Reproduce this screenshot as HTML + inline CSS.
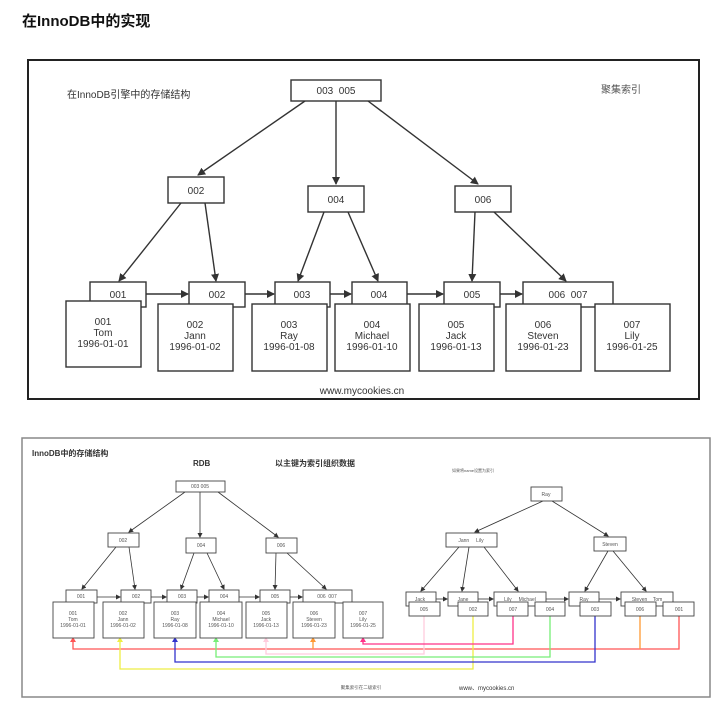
<!DOCTYPE html>
<html><head><meta charset="utf-8"><style>
html,body{margin:0;padding:0;background:#fff;}
svg{display:block;font-family:"Liberation Sans","Noto Sans CJK SC",sans-serif;}
</style></head><body>
<svg width="720" height="703" viewBox="0 0 720 703" xmlns="http://www.w3.org/2000/svg">
<defs>
<marker id="a" markerWidth="8" markerHeight="8" refX="7" refY="4" orient="auto" markerUnits="userSpaceOnUse"><path d="M0,0 L8,4 L0,8 z" fill="#333"/></marker>
<marker id="s" markerWidth="5" markerHeight="5" refX="4" refY="2.5" orient="auto" markerUnits="userSpaceOnUse"><path d="M0,0 L5,2.5 L0,5 z" fill="#333"/></marker>
</defs>
<text x="22" y="26" font-size="15" font-weight="bold" fill="#111">在InnoDB中的实现</text>

<!-- top diagram -->
<rect x="28" y="60" width="671" height="339" fill="#fff" stroke="#222" stroke-width="2"/>
<text x="67" y="98" font-size="10" fill="#333">在InnoDB引擎中的存储结构</text>
<text x="601" y="93" font-size="10" fill="#555">聚集索引</text>
<g stroke="#333" stroke-width="1.4" fill="none" marker-end="url(#a)">
<line x1="305" y1="101" x2="198" y2="175"/>
<line x1="336" y1="101" x2="336" y2="184"/>
<line x1="368" y1="101" x2="478" y2="184"/>
<line x1="181" y1="203" x2="119" y2="281"/>
<line x1="205" y1="203" x2="216" y2="281"/>
<line x1="324" y1="212" x2="298" y2="281"/>
<line x1="348" y1="212" x2="378" y2="281"/>
<line x1="475" y1="212" x2="472" y2="281"/>
<line x1="494" y1="212" x2="566" y2="281"/>
<line x1="146" y1="294" x2="188" y2="294"/>
<line x1="245" y1="294" x2="274" y2="294"/>
<line x1="330" y1="294" x2="351" y2="294"/>
<line x1="407" y1="294" x2="443" y2="294"/>
<line x1="500" y1="294" x2="522" y2="294"/>
</g>
<g stroke="#333" stroke-width="1.4" fill="#fff">
<rect x="291" y="80" width="90" height="21"/>
<rect x="168" y="177" width="56" height="26"/>
<rect x="308" y="186" width="56" height="26"/>
<rect x="455" y="186" width="56" height="26"/>
<rect x="90" y="282" width="56" height="25"/>
<rect x="189" y="282" width="56" height="25"/>
<rect x="275" y="282" width="55" height="25"/>
<rect x="352" y="282" width="55" height="25"/>
<rect x="444" y="282" width="56" height="25"/>
<rect x="523" y="282" width="90" height="25"/>
<rect x="66" y="301" width="75" height="66"/>
<rect x="158" y="304" width="75" height="67"/>
<rect x="252" y="304" width="75" height="67"/>
<rect x="335" y="304" width="75" height="67"/>
<rect x="419" y="304" width="75" height="67"/>
<rect x="506" y="304" width="75" height="67"/>
<rect x="595" y="304" width="75" height="67"/>
</g>
<g font-size="10" fill="#333" text-anchor="middle">
<text x="336" y="94">003&#160;&#160;005</text>
<text x="196" y="194">002</text><text x="336" y="203">004</text><text x="483" y="203">006</text>
<text x="118" y="298">001</text><text x="217" y="298">002</text><text x="302" y="298">003</text><text x="379" y="298">004</text><text x="472" y="298">005</text><text x="568" y="298">006&#160;&#160;007</text>
<text x="103" y="325">001</text><text x="103" y="336">Tom</text><text x="103" y="347">1996-01-01</text>
<text x="195" y="328">002</text><text x="195" y="339">Jann</text><text x="195" y="350">1996-01-02</text>
<text x="289" y="328">003</text><text x="289" y="339">Ray</text><text x="289" y="350">1996-01-08</text>
<text x="372" y="328">004</text><text x="372" y="339">Michael</text><text x="372" y="350">1996-01-10</text>
<text x="456" y="328">005</text><text x="456" y="339">Jack</text><text x="456" y="350">1996-01-13</text>
<text x="543" y="328">006</text><text x="543" y="339">Steven</text><text x="543" y="350">1996-01-23</text>
<text x="632" y="328">007</text><text x="632" y="339">Lily</text><text x="632" y="350">1996-01-25</text>
<text x="362" y="394">www.mycookies.cn</text>
</g>

<!-- bottom diagram -->
<rect x="22" y="438" width="688" height="259" fill="#fff" stroke="#888" stroke-width="1.5"/>
<text x="32" y="456" font-size="8" font-weight="bold" fill="#333">InnoDB中的存储结构</text>
<text x="193" y="466" font-size="8" font-weight="bold" fill="#333">RDB</text>
<text x="275" y="466" font-size="8" font-weight="bold" fill="#333">以主键为索引组织数据</text>
<text x="452" y="472" font-size="4" fill="#555">如果将name设置为索引</text>
<!-- colored links -->
<g fill="none" stroke-width="1.3">
<polyline points="73,640 73,649 679,649 679,614" stroke="#f55"/>
<polyline points="640,614 640,649" stroke="#f93"/>
<polyline points="313,639 313,649" stroke="#f93"/>
<polyline points="120,640 120,669 473,669 473,614" stroke="#ee4"/>
<polyline points="175,640 175,662 595,662 595,614" stroke="#33c"/>
<polyline points="216,640 216,657 550,657 550,614" stroke="#7e7"/>
<polyline points="266,640 266,654 424,654 424,614" stroke="#fcd"/>
<polyline points="363,640 363,644 513,644 513,614" stroke="#f38"/>
</g>
<g font-size="5" fill="#f55"><path d="M70,642 L73,637 L76,642 z"/></g>
<path d="M117,642 L120,637 L123,642 z" fill="#ee4"/>
<path d="M172,642 L175,637 L178,642 z" fill="#33c"/>
<path d="M213,642 L216,637 L219,642 z" fill="#7e7"/>
<path d="M263,642 L266,637 L269,642 z" fill="#fcd"/>
<path d="M310,642 L313,637 L316,642 z" fill="#f93"/>
<path d="M360,642 L363,637 L366,642 z" fill="#f38"/>
<g stroke="#333" stroke-width="0.8" fill="none" marker-end="url(#s)">
<line x1="185" y1="492" x2="129" y2="532"/>
<line x1="200" y1="492" x2="200" y2="537"/>
<line x1="218" y1="492" x2="278" y2="537"/>
<line x1="116" y1="547" x2="82" y2="589"/>
<line x1="129" y1="547" x2="135" y2="589"/>
<line x1="194" y1="553" x2="181" y2="589"/>
<line x1="207" y1="553" x2="224" y2="589"/>
<line x1="276" y1="553" x2="275" y2="589"/>
<line x1="287" y1="553" x2="326" y2="589"/>
<line x1="97" y1="597" x2="120" y2="597"/>
<line x1="151" y1="597" x2="166" y2="597"/>
<line x1="197" y1="597" x2="208" y2="597"/>
<line x1="239" y1="597" x2="259" y2="597"/>
<line x1="290" y1="597" x2="302" y2="597"/>
<line x1="543" y1="501" x2="475" y2="532"/>
<line x1="552" y1="501" x2="608" y2="536"/>
<line x1="459" y1="547" x2="421" y2="591"/>
<line x1="469" y1="547" x2="462" y2="591"/>
<line x1="484" y1="547" x2="518" y2="591"/>
<line x1="608" y1="551" x2="585" y2="591"/>
<line x1="613" y1="551" x2="646" y2="591"/>
<line x1="436" y1="599" x2="447" y2="599"/>
<line x1="478" y1="599" x2="493" y2="599"/>
<line x1="546" y1="599" x2="568" y2="599"/>
<line x1="599" y1="599" x2="620" y2="599"/>
</g>
<g stroke="#444" stroke-width="0.9" fill="#fff">
<rect x="176" y="481" width="49" height="11"/>
<rect x="108" y="533" width="31" height="14"/>
<rect x="186" y="538" width="30" height="15"/>
<rect x="266" y="538" width="31" height="15"/>
<rect x="66" y="590" width="31" height="13"/>
<rect x="121" y="590" width="30" height="13"/>
<rect x="167" y="590" width="30" height="13"/>
<rect x="209" y="590" width="30" height="13"/>
<rect x="260" y="590" width="30" height="13"/>
<rect x="303" y="590" width="49" height="13"/>
<rect x="53" y="602" width="41" height="36"/>
<rect x="103" y="602" width="41" height="36"/>
<rect x="154" y="602" width="42" height="36"/>
<rect x="200" y="602" width="42" height="36"/>
<rect x="246" y="602" width="41" height="36"/>
<rect x="293" y="602" width="42" height="36"/>
<rect x="343" y="602" width="40" height="36"/>
<rect x="531" y="487" width="31" height="14"/>
<rect x="446" y="533" width="51" height="14"/>
<rect x="594" y="537" width="32" height="14"/>
<rect x="406" y="592" width="30" height="14"/>
<rect x="448" y="592" width="30" height="14"/>
<rect x="494" y="592" width="52" height="14"/>
<rect x="569" y="592" width="30" height="14"/>
<rect x="621" y="592" width="52" height="14"/>
<rect x="409" y="602" width="31" height="14"/>
<rect x="458" y="602" width="30" height="14"/>
<rect x="497" y="602" width="31" height="14"/>
<rect x="535" y="602" width="30" height="14"/>
<rect x="580" y="602" width="31" height="14"/>
<rect x="625" y="602" width="31" height="14"/>
<rect x="663" y="602" width="31" height="14"/>
</g>
<g font-size="5" fill="#555" text-anchor="middle">
<text x="200" y="488">003&#160;005</text>
<text x="123" y="542">002</text><text x="201" y="547">004</text><text x="281" y="547">006</text>
<text x="81" y="598">001</text><text x="136" y="598">002</text><text x="182" y="598">003</text><text x="224" y="598">004</text><text x="275" y="598">005</text><text x="327" y="598">006&#160;&#160;007</text>
<text x="73" y="615">001</text><text x="73" y="621">Tom</text><text x="73" y="627">1996-01-01</text>
<text x="123" y="615">002</text><text x="123" y="621">Jann</text><text x="123" y="627">1996-01-02</text>
<text x="175" y="615">003</text><text x="175" y="621">Ray</text><text x="175" y="627">1996-01-08</text>
<text x="221" y="615">004</text><text x="221" y="621">Michael</text><text x="221" y="627">1996-01-10</text>
<text x="266" y="615">005</text><text x="266" y="621">Jack</text><text x="266" y="627">1996-01-13</text>
<text x="314" y="615">006</text><text x="314" y="621">Steven</text><text x="314" y="627">1996-01-23</text>
<text x="363" y="615">007</text><text x="363" y="621">Lily</text><text x="363" y="627">1996-01-25</text>
<text x="546" y="496">Ray</text>
<text x="471" y="542">Jann&#160;&#160;&#160;&#160;&#160;Lily</text>
<text x="610" y="546">Steven</text>
<text x="420" y="601">Jack</text><text x="463" y="601">Jane</text><text x="520" y="601">Lily&#160;&#160;&#160;&#160;&#160;Michael</text><text x="584" y="601">Ray</text><text x="647" y="601">Steven&#160;&#160;&#160;&#160;Tom</text>
<text x="424" y="611">005</text><text x="473" y="611">002</text><text x="513" y="611">007</text><text x="550" y="611">004</text><text x="595" y="611">003</text><text x="640" y="611">006</text><text x="679" y="611">001</text>
<text x="361" y="689" font-size="4.5">聚集索引在二级索引</text>
</g>
<text x="459" y="690" font-size="6" fill="#333">www、mycookies.cn</text>
</svg>
</body></html>
